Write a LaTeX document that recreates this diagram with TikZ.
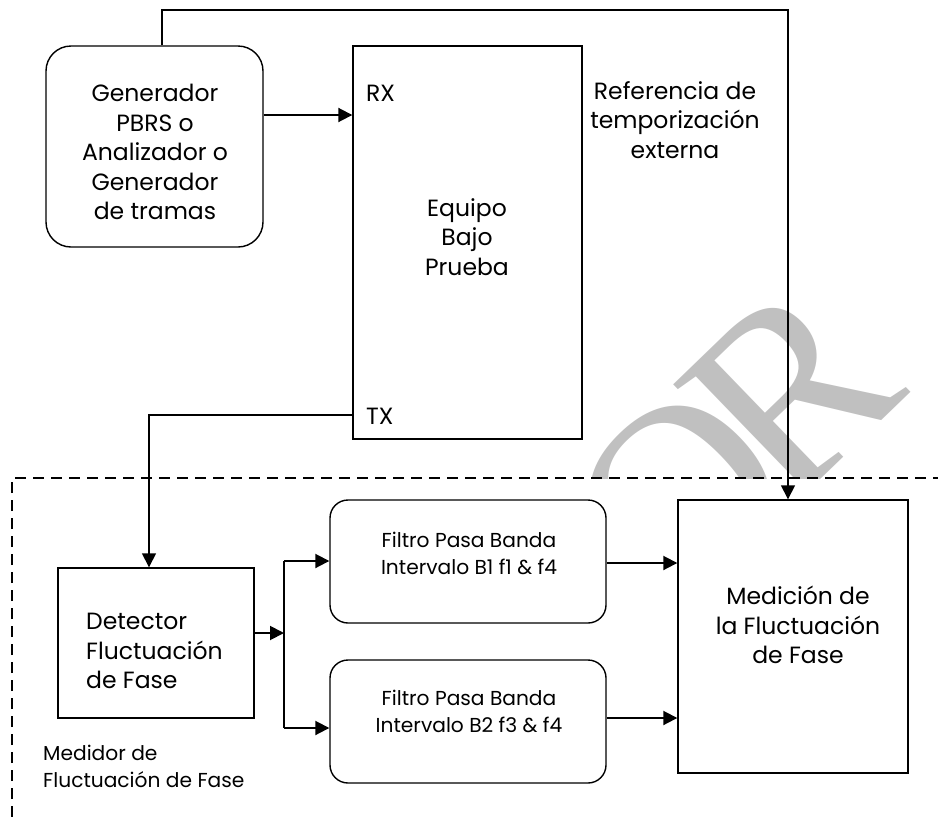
\documentclass[tikz,border=0pt]{standalone}
\usepackage{fontspec}
\setmainfont{Poppins}
\newfontfamily\wmfont{Liberation Serif}
\usetikzlibrary{arrows.meta}
\definecolor{wmgray}{RGB}{192,192,192}
\tikzset{
  box/.style={draw, line width=1.4pt, fill=white, inner sep=0pt},
  rbox/.style={box, rounded corners=#1},
  big/.style={font=\fontsize{23.5}{29.5}\selectfont, align=center, inner sep=0pt},
  small/.style={font=\fontsize{20.2}{27}\selectfont, align=center, inner sep=0pt},
  wire/.style={line width=1.5pt},
  arr/.style={line width=1.9pt, -{Triangle[length=14pt,width=14pt]}},
}
\begin{document}
\begin{tikzpicture}[x=1pt,y=-1pt]
\useasboundingbox (0,0) rectangle (938,817);
\begin{scope}
\clip (0,0) rectangle (938,478);
% watermark
\node[anchor=base east, rotate=44, text=wmgray, inner sep=0pt,
      font=\wmfont\fontsize{260}{260}\selectfont] (wm) at (911,392) {BORRADO\kern-30pt R};
\end{scope}
\draw[line width=1.6pt, dash pattern=on 11pt off 7pt] (12,817) -- (12,478) -- (938,478);

% boxes
\node[rbox=25pt, minimum width=217pt, minimum height=201pt] (gen) at (154.5,146.5) {};
\node[box, minimum width=229pt, minimum height=393pt] (eut) at (467.5,242.5) {};
\node[box, minimum width=196pt, minimum height=150pt] (det) at (156,643) {};
\node[rbox=18pt, minimum width=276pt, minimum height=123pt] (f1) at (468,561.5) {};
\node[rbox=18pt, minimum width=276pt, minimum height=123pt] (f2) at (468,721.5) {};
\node[box, minimum width=230pt, minimum height=273pt] (med) at (793,636.5) {};

% labels
\node[big] (gentxt) at (155,152) {Generador\\PBRS o\\Analizador o\\Generador\\de tramas};
\node[big] (euttxt) at (467,237) {Equipo\\Bajo\\Prueba};
\node[big, anchor=west] (rx) at (366,93) {RX};
\node[big, anchor=west] (tx) at (366,416) {TX};
\node[big] (reftxt) at (675,120) {Referencia de\\temporización\\externa};
\node[big, align=left, anchor=west] (dettxt) at (86,651) {Detector\\Fluctuación\\de Fase};
\node[small] (f1txt) at (469,553.5) {Filtro Pasa Banda\\Intervalo B1 f1 \& f4};
\node[small] (f2txt) at (469,711) {Filtro Pasa Banda\\Intervalo B2 f3 \& f4};
\node[big] (medtxt) at (798,625) {Medición de\\la Fluctuación\\de Fase};
\node[small, align=left, anchor=west] (medidor) at (43,766.5) {Medidor de\\Fluctuación de Fase};

% connector points
\coordinate (topL) at (162,10);
\coordinate (topR) at (788,10);
\coordinate (rxy) at (0,115);
\coordinate (txy) at (0,415);
\coordinate (txx) at (149,0);
\coordinate (dety) at (0,633);
\coordinate (split) at (284,633);
\coordinate (sp1) at (284,561);
\coordinate (sp2) at (284,728);
\coordinate (o1) at (0,563);
\coordinate (o2) at (0,718);

% connectors
\draw[arr, line width=1.5pt] (topL |- gen.north) -- (topL) -- (topR) -- (topR |- med.north);
\draw[arr] (gen.east |- rxy) -- (eut.west |- rxy);
\draw[arr, line width=1.5pt] (eut.west |- txy) -| (txx |- det.north);
\draw[arr] (det.east |- dety) -- (split);
\draw[wire, line width=1.9pt] (sp1) -- (sp2);
\draw[arr] (sp1) -- (f1.west |- sp1);
\draw[arr] (sp2) -- (f2.west |- sp2);
\draw[arr] (f1.east |- o1) -- (med.west |- o1);
\draw[arr] (f2.east |- o2) -- (med.west |- o2);
\end{tikzpicture}
\end{document}
